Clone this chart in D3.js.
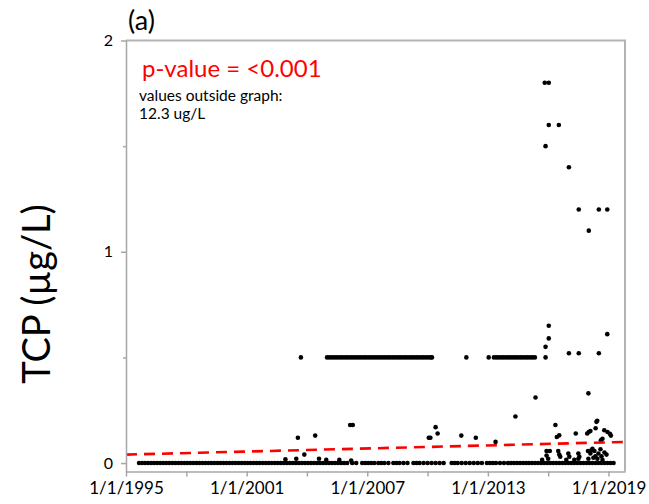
<!DOCTYPE html>
<html>
<head>
<meta charset="utf-8">
<script src="https://cdn.jsdelivr.net/npm/d3@7"></script>
<style>
body { margin: 0; background: #fff; }
svg { font-family: Lato, "Open Sans", sans-serif; }
</style>
</head>
<body>
<svg id="myGraph" width="649" height="504"></svg>
<script>
// axis ticks
var xTickYears = [1995, 1998, 2001, 2004, 2007, 2010, 2013, 2016, 2019];
var xLabelYears = [1995, 2001, 2007, 2013, 2019];
var yTicks = [0, 1, 2];
var yMinorTicks = [0.5, 1.5];

// samples reported as 0 (decimal years)
var zeroDates = [1995.65, 1995.8, 1995.95, 1996.1, 1996.25, 1996.4, 1996.55, 1996.7, 1996.85, 1997.0,
	1997.15, 1997.3, 1997.45, 1997.6, 1997.75, 1997.9, 1998.05, 1998.2, 1998.35, 1998.5,
	1998.65, 1998.8, 1998.95, 1999.1, 1999.25, 1999.4, 1999.55, 1999.7, 1999.85, 2000.0,
	2000.15, 2000.3, 2000.45, 2000.6, 2000.75, 2000.9, 2001.05, 2001.2, 2001.35, 2001.5,
	2001.65, 2001.8, 2001.95, 2002.1, 2002.25, 2002.4, 2002.55, 2002.7, 2002.85, 2003.0,
	2003.15, 2003.3, 2003.45, 2003.6, 2003.75, 2003.9, 2004.05, 2004.2, 2004.35, 2004.5,
	2004.65, 2004.8, 2004.95, 2005.1, 2005.25, 2005.4, 2005.55, 2005.7, 2005.85, 2006.0,
	2006.25, 2006.45, 2006.75, 2006.9, 2007.05, 2007.2, 2007.35,
	2007.55, 2007.7, 2007.85, 2008.05, 2008.3, 2008.45, 2008.6, 2008.8, 2009.0,
	2009.3, 2009.45, 2009.6, 2009.8, 2010.0, 2010.2, 2010.4, 2010.6, 2010.8,
	2011.2, 2011.35, 2011.5, 2011.7, 2011.9, 2012.1, 2012.3, 2012.5, 2012.7,
	2012.95, 2013.1, 2013.25, 2013.4, 2013.6, 2013.8, 2014.0, 2014.15, 2014.3, 2014.45,
	2014.6, 2014.75, 2014.9, 2015.05, 2015.2, 2015.35, 2015.5, 2015.65, 2015.8, 2015.95,
	2016.1, 2016.25, 2016.4, 2016.55, 2016.7, 2016.85, 2017.0, 2017.15, 2017.3, 2017.45,
	2017.6, 2017.75, 2017.9, 2018.05, 2018.2, 2018.35, 2018.5, 2018.65, 2018.8, 2018.95,
	2019.1, 2019.25];

// samples reported as 0.5 (reporting limit rows)
var halfDates = [2003.7,
	2005.0, 2005.12, 2005.24, 2005.36, 2005.48, 2005.6, 2005.72, 2005.84, 2005.96, 2006.08,
	2006.2, 2006.32, 2006.44, 2006.56, 2006.68, 2006.8, 2006.92, 2007.04, 2007.16, 2007.28,
	2007.4, 2007.52, 2007.64, 2007.76, 2007.88, 2008.0, 2008.12, 2008.24, 2008.36, 2008.48,
	2008.6, 2008.72, 2008.84, 2008.96, 2009.08, 2009.2, 2009.32, 2009.44, 2009.56, 2009.68,
	2009.8, 2009.92, 2010.04, 2010.16, 2010.22,
	2011.93,
	2013.04, 2013.3, 2013.42, 2013.54, 2013.66, 2013.78, 2013.9, 2014.02, 2014.14, 2014.26,
	2014.38, 2014.5, 2014.62, 2014.74, 2014.86, 2014.98, 2015.1, 2015.22, 2015.34,
	2015.87];

// other detections
var otherDates = [2002.93, 2003.47, 2003.87, 2004.6, 2004.96, 2005.61, 2006.2,
	2003.55, 2004.41, 2006.15, 2006.28,
	2010.06, 2010.14, 2010.4, 2010.5, 2011.68, 2012.4, 2013.38, 2014.37, 2015.37,
	2015.92, 2016.08, 2015.92, 2016.0, 2016.5, 2016.55, 2016.6, 2017.0, 2017.05, 2017.5,
	2017.5, 2017.98, 2018.1, 2018.2, 2018.3, 2018.35, 2018.5, 2018.65, 2018.8, 2018.0,
	2018.25, 2018.45, 2018.7, 2016.9, 2017.3, 2015.7, 2017.55, 2018.15, 2018.6, 2018.9,
	2016.36, 2016.43, 2016.55, 2017.37, 2017.94, 2018.02, 2018.1, 2018.36, 2018.4, 2018.44,
	2018.62, 2018.7, 2018.79, 2018.95, 2019.07, 2019.12,
	2015.83, 2016.03, 2016.03, 2016.53, 2015.87, 2017.03, 2017.52, 2018.52, 2018.94, 2018.02,
	2016.03, 2016.03, 2015.87, 2017.03, 2017.52, 2018.52, 2018.94, 2018.0];
var otherValues = [0.018, 0.02, 0.04, 0.02, 0.015, 0.015, 0.012,
	0.12, 0.13, 0.18, 0.18,
	0.12, 0.12, 0.17, 0.14, 0.13, 0.12, 0.1, 0.22, 0.31,
	0.057, 0.057, 0.036, 0.02, 0.057, 0.04, 0.03, 0.045, 0.03, 0.045,
	0.02, 0.057, 0.045, 0.068, 0.057, 0.032, 0.045, 0.032, 0.05, 0.02,
	0.025, 0.02, 0.015, 0.015, 0.015, 0.015, 0.03, 0.06, 0.065, 0.04,
	0.18, 0.123, 0.131, 0.14, 0.14, 0.147, 0.152, 0.165, 0.195, 0.2,
	0.108, 0.115, 0.155, 0.147, 0.139, 0.13,
	1.8, 1.8, 1.6, 1.6, 1.5, 1.4, 1.2, 1.2, 1.2, 1.1,
	0.65, 0.59, 0.55, 0.52, 0.52, 0.52, 0.61, 0.33];

// linear trend at the ends of the axis
var trendValues = [0.04, 0.1];

function decYear(v){
	var yr = Math.floor(v);
	var a = new Date(yr, 0, 1), b = new Date(yr + 1, 0, 1);
	return new Date(+a + (v - yr) * (b - a));
}

window.addEventListener("load", function(){

	var svg = d3.select("#myGraph");
	var left = 126, right = 625, top = 40.5, bottom = 471.5;

	var xMin = new Date(1995, 0, 1), xMax = new Date(2019, 9, 28);
	var x = d3.scaleTime().domain([xMin, xMax]).range([left, right]);
	var y = d3.scaleLinear().domain([-0.04, 2]).range([bottom, top]);

	// points
	var pts = [];
	zeroDates.forEach(function(d){ pts.push([d, 0]); });
	halfDates.forEach(function(d){ pts.push([d, 0.5]); });
	otherDates.forEach(function(d, i){ pts.push([d, otherValues[i]]); });

	svg.append("g")
		.selectAll("circle")
		.data(pts)
		.enter()
		.append("circle")
		.attr("cx", function(d){ return x(decYear(d[0])); })
		.attr("cy", function(d){ return y(d[1]); })
		.attr("r", 2.3)
		.attr("fill", "#000");

	// trend line
	var line = d3.line()
		.x(function(d){ return x(d[0]); })
		.y(function(d){ return y(d[1]); });
	svg.append("path")
		.datum([[xMin, trendValues[0]], [xMax, trendValues[1]]])
		.attr("d", line)
		.attr("fill", "none")
		.attr("stroke", "#ff0000")
		.attr("stroke-width", 2.6)
		.attr("stroke-dasharray", "11,7");

	// plot border (top, right)
	svg.append("path")
		.attr("d", "M" + left + "," + top + "H" + right + "V" + bottom)
		.attr("fill", "none")
		.attr("stroke", "#b3b3b3")
		.attr("stroke-width", 2);

	// x axis
	var xAxis = d3.axisBottom(x)
		.tickValues(xTickYears.map(function(v){ return new Date(v, 0, 1); }))
		.tickSize(5)
		.tickSizeOuter(0)
		.tickPadding(5)
		.tickFormat(function(d){
			var yr = d.getFullYear();
			return xLabelYears.indexOf(yr) >= 0 ? "1/1/" + yr : "";
		});
	var gx = svg.append("g")
		.attr("class", "axis")
		.attr("transform", "translate(0," + bottom + ")")
		.call(xAxis);

	// y axis
	var yAxis = d3.axisLeft(y)
		.tickValues(yTicks)
		.tickSize(5)
		.tickSizeOuter(0)
		.tickPadding(8)
		.tickFormat(d3.format("d"));
	var gy = svg.append("g")
		.attr("class", "axis")
		.attr("transform", "translate(" + left + ",0)")
		.call(yAxis);

	svg.append("g")
		.attr("class", "axis")
		.attr("transform", "translate(" + left + ",0)")
		.call(d3.axisLeft(y).tickValues(yMinorTicks).tickSize(3).tickSizeOuter(0).tickFormat(""))
		.select(".domain").remove();

	svg.selectAll(".axis path, .axis line")
		.attr("stroke", "#a6a6a6")
		.attr("stroke-width", 1.5);
	svg.selectAll(".axis text")
		.attr("font-family", "Lato, sans-serif")
		.attr("font-size", 16)
		.attr("fill", "#000");
	gx.selectAll("text")
		.attr("font-size", 17);

	// y title
	svg.append("text")
		.attr("transform", "translate(50,294) rotate(-90)")
		.attr("text-anchor", "middle")
		.attr("font-size", 38)
		.attr("fill", "#000")
		.text("TCP (µg/L)");

	// panel label and notes
	svg.append("text")
		.attr("x", 128).attr("y", 30)
		.attr("font-size", 27)
		.text("(a)");

	svg.append("text")
		.attr("x", 142).attr("y", 77)
		.attr("font-size", 24)
		.attr("fill", "#ff0000")
		.text("p-value = <0.001");

	svg.append("text")
		.attr("x", 139).attr("y", 101)
		.attr("font-size", 15.5)
		.text("values outside graph:");
	svg.append("text")
		.attr("x", 139).attr("y", 119)
		.attr("font-size", 15.5)
		.text("12.3 ug/L");
});
</script>
</body>
</html>
